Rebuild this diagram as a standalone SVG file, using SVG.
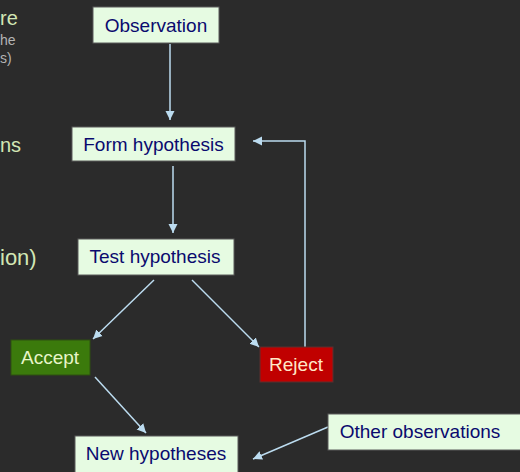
<svg xmlns="http://www.w3.org/2000/svg" width="520" height="472" viewBox="0 0 520 472">
<style>
.box{fill:#e6fbe2;stroke:#5a5a5a;stroke-width:1}
.t{font-family:"Liberation Sans",Arial,sans-serif;font-size:19px;fill:#0a0a6e;text-anchor:middle}
.lt{font-family:"Liberation Sans",Arial,sans-serif}
.c{stroke:#bcdcf0;stroke-width:1.5;fill:none;marker-end:url(#ah)}
</style>
<defs>
<marker id="ah" viewBox="0 0 10 10" refX="10" refY="5" markerWidth="9" markerHeight="10" markerUnits="userSpaceOnUse" orient="auto">
<path d="M0,0 L10,5 L0,10 Z" fill="#bcdcf0"/>
</marker>
</defs>
<rect width="520" height="472" fill="#2b2b2b"/>
<g id="left-text">
<text class="lt" x="0" y="25" font-size="20" fill="#d2e6b4">re</text>
<text class="lt" x="0" y="45" font-size="14" fill="#b4b4b4">he</text>
<text class="lt" x="0" y="63" font-size="14" fill="#b4b4b4">s)</text>
<text class="lt" x="0" y="152" font-size="20" fill="#d2e6b4">ns</text>
<text class="lt" x="0" y="265" font-size="22" fill="#d2e6b4">ion)</text>
</g>
<g id="connectors">
<path class="c" d="M170,44 V120"/>
<path class="c" d="M173,166 V233"/>
<path class="c" d="M154,280 L93,339"/>
<path class="c" d="M192,280 L259,347"/>
<path class="c" d="M305,347 V141 H253"/>
<path class="c" d="M95,377 L146,433"/>
<path class="c" d="M328,427 L253,459"/>
</g>
<g id="observation">
<rect class="box" x="93" y="7" width="126" height="36"/>
<text class="t" x="156" y="32">Observation</text>
</g>
<g id="form-hypothesis">
<rect class="box" x="72" y="127" width="163" height="34"/>
<text class="t" x="153.5" y="151">Form hypothesis</text>
</g>
<g id="test-hypothesis">
<rect class="box" x="78" y="239" width="156" height="36"/>
<text class="t" x="155" y="263">Test hypothesis</text>
</g>
<g id="accept">
<rect x="11" y="340" width="79" height="35" fill="#3b7a0c" stroke="#2f5010"/>
<text class="t" x="50" y="364" style="fill:#e8f5c8">Accept</text>
</g>
<g id="reject">
<rect x="260" y="347" width="73" height="35" fill="#c00000" stroke="#5a3030"/>
<text class="t" x="296" y="371" style="fill:#ffe8c8">Reject</text>
</g>
<g id="new-hypotheses">
<rect class="box" x="75" y="436" width="163" height="40"/>
<text class="t" x="156" y="460">New hypotheses</text>
</g>
<g id="other-observations">
<rect class="box" x="328" y="414" width="200" height="36"/>
<text class="t" x="420" y="438">Other observations</text>
</g>
</svg>
